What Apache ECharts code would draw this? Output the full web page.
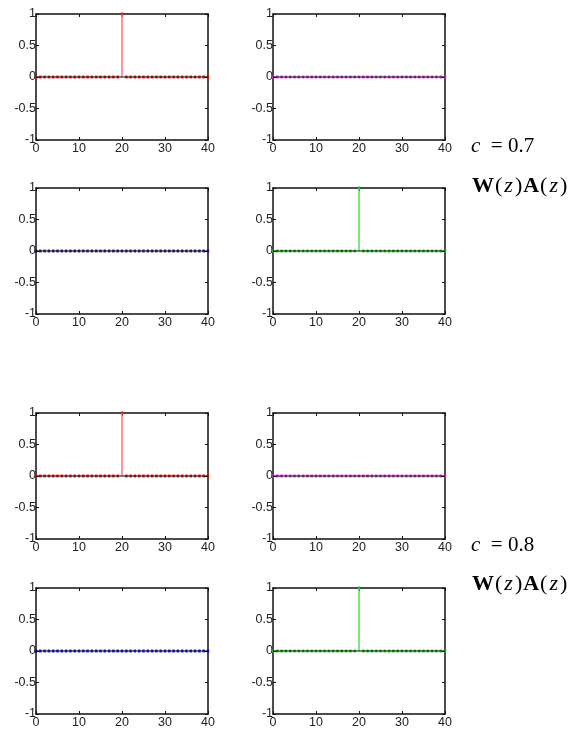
<!DOCTYPE html>
<html><head><meta charset="utf-8">
<script src="https://cdn.jsdelivr.net/npm/echarts@6/dist/echarts.min.js"></script>
<style>html,body{margin:0;padding:0;background:#fff}#c{width:582px;height:729px}</style>
</head><body><div id="c"></div>
<script>
// sample index n = 0..40
const n = [];
for (let k = 0; k <= 40; k++) n.push(k);
// series values (one impulse of height 1 at n = 20, otherwise ~0)
const impulse = [0,0,0,0,0,0,0,0,0,0,0,0,0,0,0,0,0,0,0,0,1,0,0,0,0,0,0,0,0,0,0,0,0,0,0,0,0,0,0,0,0];
const zeros   = [0,0,0,0,0,0,0,0,0,0,0,0,0,0,0,0,0,0,0,0,0,0,0,0,0,0,0,0,0,0,0,0,0,0,0,0,0,0,0,0,0];
const panelValues = [impulse, zeros, zeros, impulse, impulse, zeros, zeros, impulse];
const panelColors = ['#ff0000', '#e020e0', '#101080', '#00cc00', '#ff0000', '#e020e0', '#0000ff', '#00cc00'];
const stemColors  = ['#ff6060', '#e020e0', '#101080', '#33dd33', '#ff6060', '#e020e0', '#0000ff', '#33dd33'];
const xTicks = [0, 10, 20, 30, 40];
const yTicks = [-1, -0.5, 0, 0.5, 1];
const cLabels = ['0.7', '0.8'];

const lefts = [36, 273];
const tops = [14, 188, 413, 588];
const W = 172, H = 126;

const grids = [], xAxes = [], yAxes = [], series = [];
for (let i = 0; i < 8; i++) {
  const r = Math.floor(i / 2), c = i % 2;
  grids.push({left: lefts[c], top: tops[r], width: W, height: H});
  const axLine = {show: true, onZero: false, lineStyle: {color: '#111', width: 1.5}};
  const tick = {show: true, inside: true, length: 3, lineStyle: {color: '#111', width: 1}};
  const xBase = {type: 'value', gridIndex: i, min: xTicks[0], max: xTicks[xTicks.length - 1],
    interval: xTicks[1] - xTicks[0], splitLine: {show: false}, axisLine: axLine, axisTick: tick};
  xAxes.push(Object.assign({}, xBase, {position: 'bottom',
    axisLabel: {color: '#222', fontSize: 12.5, fontFamily: 'Liberation Sans, Arial', margin: 2}}));
  xAxes.push(Object.assign({}, xBase, {position: 'top', axisLabel: {show: false}}));
  const yBase = {type: 'value', gridIndex: i, min: yTicks[0], max: yTicks[yTicks.length - 1],
    interval: yTicks[1] - yTicks[0], splitLine: {show: false}, axisLine: axLine, axisTick: tick};
  yAxes.push(Object.assign({}, yBase, {position: 'left',
    axisLabel: {color: '#222', fontSize: 12.5, fontFamily: 'Liberation Sans, Arial', margin: 0}}));
  yAxes.push(Object.assign({}, yBase, {position: 'right', axisLabel: {show: false}}));

  const data = n.map((k, j) => [k, panelValues[i][j]]);
  const xi = i * 2, yi = i * 2;
  // stems
  series.push({
    type: 'custom', xAxisIndex: xi, yAxisIndex: yi, data: data, z: 3, silent: true,
    renderItem: (function (col) {
      return function (params, api) {
        const p0 = api.coord([api.value(0), 0]);
        const p1 = api.coord([api.value(0), api.value(1)]);
        return {type: 'line', shape: {x1: p0[0], y1: p0[1], x2: p1[0], y2: p1[1]},
          style: {stroke: col, lineWidth: 1.3}};
      };
    })(stemColors[i])
  });
  // markers
  series.push({
    type: 'scatter', xAxisIndex: xi, yAxisIndex: yi, data: data, symbol: 'rect',
    symbolSize: [2.5, 3], itemStyle: {color: panelColors[i], opacity: 0.85}, z: 2, silent: true
  });
  // baseline
  series.push({
    type: 'line', xAxisIndex: xi, yAxisIndex: yi, data: [[xTicks[0], 0], [xTicks[xTicks.length - 1], 0]],
    symbol: 'none', lineStyle: {color: '#000', width: 1}, z: 4, silent: true
  });
}

const graphic = [];
const cY = [148, 547], wY = [187, 585];
for (let g = 0; g < 2; g++) {
  graphic.push({type: 'text', left: 471, top: cY[g] - 12, style: {
    text: '{i|c}{r|\u2002= ' + cLabels[g] + '}',
    rich: {
      i: {fontFamily: 'Liberation Serif', fontStyle: 'italic', fontSize: 21, fill: '#000'},
      r: {fontFamily: 'Liberation Serif', fontSize: 21, fill: '#000'}
    }}});
  graphic.push({type: 'text', left: 472, top: wY[g] - 12, style: {
    text: '{b|W}{p|(}{i|z}{p|)}{b|A}{p|(}{i|z}{p|)}',
    rich: {
      b: {fontFamily: 'Liberation Serif', fontWeight: 'bold', fontSize: 22, fill: '#000'},
      p: {fontFamily: 'Liberation Serif', fontSize: 22, fill: '#000', padding: [0, 1, 0, 1]},
      i: {fontFamily: 'Liberation Serif', fontStyle: 'italic', fontSize: 22, fill: '#000', padding: [0, 1, 0, 1]}
    }}});
}

const chart = echarts.init(document.getElementById('c'), null, {renderer: 'canvas'});
chart.setOption({animation: false, backgroundColor: '#fff', grid: grids, xAxis: xAxes, yAxis: yAxes,
  series: series, graphic: graphic});
</script></body></html>
